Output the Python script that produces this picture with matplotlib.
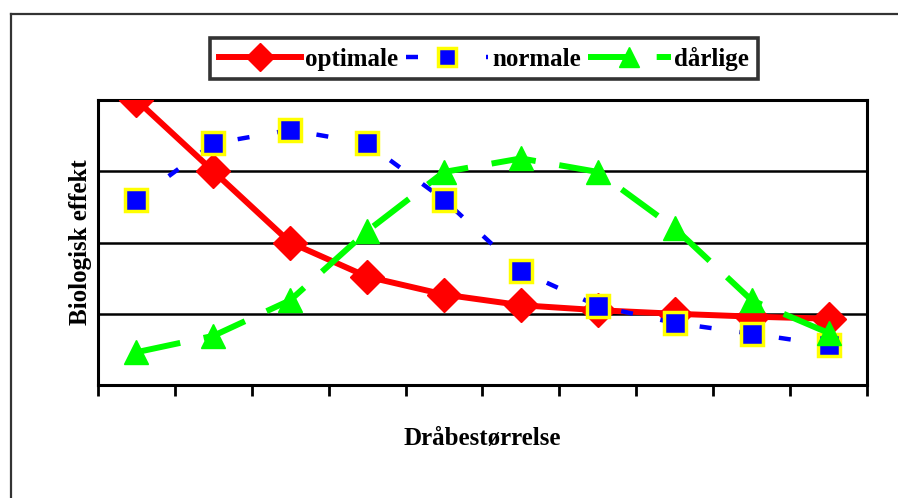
import matplotlib
matplotlib.use("Agg")
import matplotlib.pyplot as plt
from matplotlib.lines import Line2D

# categories (droplet size classes, no labels shown)
categories = list(range(1, 11))

optimale = [4.0, 3.0, 2.0, 1.52, 1.27, 1.12, 1.05, 1.0, 0.96, 0.93]
normale = [2.6, 3.39, 3.58, 3.39, 2.6, 1.6, 1.11, 0.87, 0.72, 0.56]
darlige = [0.46, 0.69, 1.19, 2.16, 2.99, 3.18, 2.99, 2.2, 1.19, 0.73]

labels = ["optimale", "normale", "dårlige"]
ylabel = "Biologisk effekt"
xlabel = "Dråbestørrelse"

plt.rcParams["font.family"] = ["Liberation Serif", "DejaVu Serif"]

fig = plt.figure(figsize=(8.98, 4.98), dpi=100)
ax = fig.add_axes([0.1091, 0.2269, 0.8564, 0.5723])

x = [c - 0.5 for c in categories]

ax.plot(x, optimale, color="#ff0000", lw=4.3, marker="D", ms=17,
        mfc="#ff0000", mec="#ff0000", label=labels[0], zorder=3)
ax.plot(x, normale, color="#0000ff", lw=3.2, dashes=(2.7, 6.3), marker="s",
        ms=16, mfc="#0000ff", mec="#ffff00", mew=2.5, label=labels[1], zorder=4)
ax.plot(x, darlige, color="#00ff00", lw=4.3, dashes=(7.5, 4), marker="^",
        ms=17, mfc="#00ff00", mec="#00ff00", label=labels[2], zorder=5)

ax.set_xlim(0, 10)
ax.set_ylim(0, 4)
ax.set_xticks(range(0, 11))
ax.set_xticklabels([])
ax.set_yticks([1, 2, 3])
ax.set_yticklabels([])
ax.tick_params(axis="x", length=8, width=2, direction="out")
ax.tick_params(axis="y", length=0)
ax.grid(axis="y", color="black", lw=1.8)
ax.set_axisbelow(True)
for s in ax.spines.values():
    s.set_linewidth(2.2)
    s.set_color("black")

ax.set_ylabel(ylabel, fontsize=18, fontweight="bold", labelpad=1)
ax.set_xlabel(xlabel, fontsize=18, fontweight="bold", labelpad=19)

leg = fig.legend(loc="center", bbox_to_anchor=(0.539, 0.8825), ncol=3,
                 prop={"weight": "bold", "size": 18},
                 frameon=True, fancybox=False, edgecolor="black",
                 handlelength=3.3, handletextpad=0.15, columnspacing=0.3,
                 borderpad=0.35, borderaxespad=0, numpoints=1, markerscale=0.85)
leg.get_frame().set_linewidth(2.6)

# outer frame (left and top edges only are visible)
fig.add_artist(Line2D([11 / 898, 11 / 898], [0, 1 - 14 / 498],
                      transform=fig.transFigure, color="#333333", lw=1.6))
fig.add_artist(Line2D([11 / 898, 1], [1 - 14 / 498, 1 - 14 / 498],
                      transform=fig.transFigure, color="#333333", lw=1.6))

fig.savefig("out.png", dpi=100)
